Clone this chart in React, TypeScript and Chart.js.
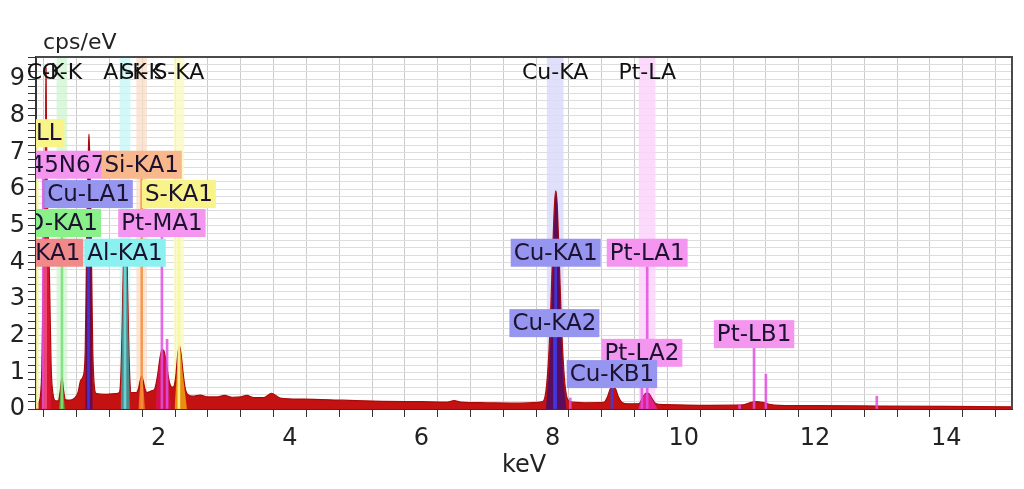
import React, { useEffect, useRef } from 'react';
import { Chart, registerables } from 'chart.js';

Chart.register(...registerables);

// ---- spectrum (keV, cps/eV) ----
const spectrumKeV = [
  0.13, 0.16, 0.2, 0.22, 0.24, 0.26, 0.275, 0.283, 0.29, 0.31,
  0.335, 0.36, 0.39, 0.43, 0.47, 0.5, 0.525, 0.55, 0.58, 0.65,
  0.72, 0.77, 0.81, 0.85, 0.88, 0.895, 0.91, 0.925, 0.937, 0.95,
  0.965, 0.98, 0.995, 1.02, 1.05, 1.2, 1.35, 1.4, 1.42, 1.44,
  1.46, 1.475, 1.49, 1.505, 1.52, 1.54, 1.56, 1.58, 1.66, 1.69,
  1.715, 1.74, 1.765, 1.79, 1.82, 1.9, 1.94, 1.98, 2.02, 2.05,
  2.08, 2.12, 2.16, 2.2, 2.22, 2.26, 2.29, 2.315, 2.34, 2.37,
  2.4, 2.44, 2.52, 2.63, 2.75, 2.9, 3.0, 3.12, 3.25, 3.34,
  3.45, 3.6, 3.72, 3.85, 4.2, 4.8, 5.4, 6.0, 6.4, 6.5,
  6.6, 7.0, 7.5, 7.85, 7.9, 7.94, 7.97, 8.0, 8.03, 8.05,
  8.07, 8.1, 8.13, 8.16, 8.2, 8.26, 8.5, 8.78, 8.84, 8.88,
  8.92, 8.96, 9.0, 9.06, 9.15, 9.32, 9.37, 9.42, 9.46, 9.51,
  9.57, 9.7, 10.4, 10.9, 11.0, 11.1, 11.2, 11.3, 11.45, 12.0,
  13.0, 14.0, 15.0,
];
const spectrumCps = [
  0.05, 0.15, 0.4, 1.2, 3.6, 5.2, 7.5, 9.3, 7.5, 5.2,
  3.6, 1.2, 0.4, 0.22, 0.22, 0.5, 0.85, 0.5, 0.25, 0.24,
  0.3, 0.45, 0.78, 0.9, 1.6, 3.5, 5.5, 6.8, 7.5, 6.8,
  5.5, 3.5, 1.6, 0.6, 0.42, 0.4, 0.42, 0.45, 0.8, 2.0,
  3.8, 4.4, 4.6, 4.4, 3.8, 2.0, 0.8, 0.45, 0.45, 0.55,
  0.75, 0.9, 0.75, 0.55, 0.45, 0.5, 0.55, 0.9, 1.4, 1.62,
  1.58, 1.2, 0.75, 0.6, 0.6, 0.9, 1.5, 1.72, 1.5, 1.0,
  0.6, 0.4, 0.35, 0.38, 0.33, 0.33, 0.37, 0.32, 0.33, 0.37,
  0.31, 0.31, 0.43, 0.3, 0.27, 0.24, 0.21, 0.2, 0.19, 0.23,
  0.19, 0.17, 0.16, 0.2, 0.5, 1.4, 2.6, 4.2, 5.6, 5.95,
  5.6, 4.2, 2.6, 1.4, 0.5, 0.2, 0.17, 0.18, 0.35, 0.55,
  0.62, 0.55, 0.35, 0.18, 0.14, 0.15, 0.3, 0.43, 0.43, 0.3,
  0.15, 0.12, 0.1, 0.11, 0.17, 0.2, 0.18, 0.13, 0.1, 0.09,
  0.08, 0.07, 0.06,
];

// ---- element peak fills ----
const cPeakKeV = [0.215, 0.24, 0.26, 0.275, 0.283, 0.29, 0.31, 0.335, 0.36];
const cPeakCps = [0, 3.2, 5.0, 7.2, 9.0, 7.2, 5.0, 3.2, 0];
const oPeakKeV = [0.48, 0.505, 0.525, 0.545, 0.57];
const oPeakCps = [0, 0.45, 0.82, 0.45, 0];
const cuLPeakKeV = [0.88, 0.895, 0.91, 0.925, 0.937, 0.95, 0.965, 0.98, 0.995];
const cuLPeakCps = [0, 3.0, 5.2, 6.5, 7.1, 6.5, 5.2, 3.0, 0];
const alPeakKeV = [1.42, 1.44, 1.46, 1.475, 1.49, 1.505, 1.52, 1.54, 1.56];
const alPeakCps = [0, 1.8, 3.6, 4.3, 4.5, 4.3, 3.6, 1.8, 0];
const siPeakKeV = [1.69, 1.715, 1.74, 1.765, 1.79];
const siPeakCps = [0, 0.6, 0.86, 0.6, 0];
const ptMPeakKeV = [1.95, 1.98, 2.02, 2.05, 2.08, 2.12, 2.16, 2.19];
const ptMPeakCps = [0, 0.75, 1.3, 1.58, 1.52, 1.1, 0.6, 0];
const sPeakKeV = [2.24, 2.27, 2.29, 2.315, 2.34, 2.37, 2.4, 2.43];
const sPeakCps = [0, 0.8, 1.45, 1.68, 1.45, 0.9, 0.45, 0];
const cuKPeakKeV = [7.9, 7.95, 7.98, 8.01, 8.04, 8.055, 8.07, 8.1, 8.13, 8.16, 8.21];
const cuKPeakCps = [0, 1.2, 2.4, 4.2, 5.6, 5.85, 5.6, 4.0, 2.3, 1.0, 0];
const ptLPeakKeV = [9.3, 9.36, 9.42, 9.46, 9.52, 9.6];
const ptLPeakCps = [0, 0.26, 0.42, 0.41, 0.25, 0];

// ---- line markers ----
const markerKeV = [0.149, 0.24, 0.277, 0.525, 0.93, 1.486, 1.74, 2.048, 2.127, 2.307, 8.028, 8.048, 8.27, 8.905, 9.361, 9.442, 10.85, 11.07, 11.25, 12.94];
const markerTop = [7.14, 6.28, 3.88, 4.69, 5.48, 3.88, 6.28, 4.69, 1.9, 5.48, 1.96, 3.88, 0.3, 0.57, 1.15, 3.88, 0.12, 1.66, 0.95, 0.35];
const markerEl = ['S', 'Pt', 'C', 'O', 'Cu', 'Al', 'Si', 'Pt', 'Pt', 'S', 'Cu', 'Cu', 'Pt', 'Cu', 'Pt', 'Pt', 'Pt', 'Pt', 'Pt', 'Pt'];

// ---- element bands ----
const bandNarrowKeV = [0.525, 1.486, 1.74, 2.307];
const bandNarrowEl = ['O', 'Al', 'Si', 'S'];
const bandWideKeV = [8.04, 9.44];
const bandWideEl = ['Cu', 'Pt'];

// ---- line labels ----
const labelTexts = ['S-LL', 'Pt-N45N67', 'Si-KA1', 'Cu-LA1', 'S-KA1', 'O-KA1', 'Pt-MA1', 'C-KA1', 'Al-KA1', 'Cu-KA1', 'Pt-LA1', 'Cu-KA2', 'Pt-LA2', 'Cu-KB1', 'Pt-LB1'];
const labelKeV = [0.149, 0.24, 1.74, 0.93, 2.307, 0.525, 2.048, 0.277, 1.486, 8.048, 9.442, 8.028, 9.361, 8.905, 11.07];
const labelLevel = [7.14, 6.28, 6.28, 5.48, 5.48, 4.69, 4.69, 3.88, 3.88, 3.88, 3.88, 1.96, 1.15, 0.57, 1.66];
const labelEl = ['S', 'Pt', 'Si', 'Cu', 'S', 'O', 'Pt', 'C', 'Al', 'Cu', 'Pt', 'Cu', 'Pt', 'Cu', 'Pt'];

const topLabelTexts = ['C-K', 'O-K', 'Al-K', 'Si-K', 'S-KA', 'Cu-KA', 'Pt-LA'];
const topLabelKeV = [0.277, 0.525, 1.486, 1.74, 2.307, 8.04, 9.442];

const X_MIN = 0.13;
const X_MAX = 15;
const Y_MAX = 9.6;

// ---- styles ----
const boxColor: Record<string, string> = {
  C: '#f08a8a', O: '#8af08a', Al: '#8af0f0', Si: '#f8b88c', S: '#f8f48a', Cu: '#9696f0', Pt: '#f496f0',
};
const markerColor: Record<string, string> = {
  C: 'rgba(240,80,122,0.85)', O: 'rgba(126,224,126,0.9)', Al: 'rgba(112,222,222,0.85)', Si: 'rgba(244,144,64,0.85)',
  S: 'rgba(246,246,160,0.9)', Cu: 'rgba(60,60,232,0.85)', Pt: 'rgba(224,80,224,0.85)',
};
const bandColor: Record<string, string> = {
  O: 'rgba(205,245,205,0.7)', Al: 'rgba(195,245,245,0.75)', Si: 'rgba(250,220,195,0.7)', S: 'rgba(250,250,195,0.8)',
  Cu: 'rgba(218,218,250,0.85)', Pt: 'rgba(250,212,250,0.85)',
};

const FONT = '"DejaVu Sans", Verdana, sans-serif';

const pts = (xs: number[], ys: number[]) => xs.map((x, i) => ({ x, y: ys[i] }));

const annotPlugin = {
  id: 'annot',
  afterDatasetsDraw(chart: any) {
    const { ctx, chartArea, scales } = chart;
    const xs = scales.x;
    const ys = scales.y;
    ctx.save();
    ctx.beginPath();
    ctx.rect(chartArea.left, chartArea.top, chartArea.right - chartArea.left, chartArea.bottom - chartArea.top);
    ctx.clip();
    ctx.font = `23px ${FONT}`;
    ctx.textAlign = 'center';
    ctx.textBaseline = 'middle';
    const h = 28;
    for (let i = 0; i < labelTexts.length; i++) {
      const t = labelTexts[i];
      const cx = xs.getPixelForValue(labelKeV[i]);
      const by = ys.getPixelForValue(labelLevel[i]);
      const w = ctx.measureText(t).width + 6;
      ctx.fillStyle = boxColor[labelEl[i]];
      ctx.fillRect(cx - w / 2, by - h, w, h);
      ctx.fillStyle = '#1c1230';
      ctx.fillText(t, cx, by - h / 2 + 1);
    }
    ctx.restore();

    ctx.save();
    ctx.font = `22px ${FONT}`;
    ctx.textAlign = 'center';
    ctx.textBaseline = 'middle';
    ctx.fillStyle = '#111';
    for (let i = 0; i < topLabelTexts.length; i++) {
      ctx.fillText(topLabelTexts[i], xs.getPixelForValue(topLabelKeV[i]), chartArea.top + 16);
    }
    ctx.restore();
  },
  afterDraw(chart: any) {
    const { ctx, chartArea } = chart;
    ctx.save();
    ctx.strokeStyle = '#4a4a4a';
    ctx.lineWidth = 2;
    ctx.beginPath();
    ctx.moveTo(chartArea.left, chartArea.top);
    ctx.lineTo(chartArea.right, chartArea.top);
    ctx.lineTo(chartArea.right, chartArea.bottom);
    ctx.stroke();
    ctx.fillStyle = '#222';
    ctx.font = `22px ${FONT}`;
    ctx.textBaseline = 'middle';
    ctx.textAlign = 'left';
    ctx.fillText('cps/eV', 43, 43);
    ctx.font = `24px ${FONT}`;
    ctx.textAlign = 'center';
    ctx.fillText('keV', (chartArea.left + chartArea.right) / 2, 466);
    ctx.restore();
  },
};

export default function App() {
  const ref = useRef<HTMLCanvasElement | null>(null);

  useEffect(() => {
    if (!ref.current) return;
    const overlay = (xs: number[], ys: number[], color: string) => ({
      type: 'line',
      data: pts(xs, ys),
      fill: 'origin',
      backgroundColor: color,
      borderColor: color,
      borderWidth: 0,
      pointRadius: 0,
      cubicInterpolationMode: 'monotone',
      order: 2,
    });
    const chart = new Chart(ref.current, {
      type: 'line',
      data: {
        datasets: [
          {
            type: 'bar',
            data: pts(markerKeV, markerTop),
            backgroundColor: markerEl.map((e) => markerColor[e]),
            barThickness: 2,
            grouped: false,
            order: 1,
          },
          overlay(cPeakKeV, cPeakCps, '#dc1232'),
          overlay(oPeakKeV, oPeakCps, '#5f9a1f'),
          overlay(cuLPeakKeV, cuLPeakCps, '#6a0a4f'),
          overlay(alPeakKeV, alPeakCps, '#4d8c8c'),
          overlay(siPeakKeV, siPeakCps, '#f0701a'),
          overlay(ptMPeakKeV, ptMPeakCps, '#d4104c'),
          overlay(sPeakKeV, sPeakCps, '#e8900c'),
          overlay(cuKPeakKeV, cuKPeakCps, '#5c0c5c'),
          overlay(ptLPeakKeV, ptLPeakCps, '#e0208a'),
          {
            type: 'line',
            data: pts(spectrumKeV, spectrumCps),
            fill: 'origin',
            backgroundColor: '#c41212',
            borderColor: '#a80a0a',
            borderWidth: 1.2,
            pointRadius: 0,
            cubicInterpolationMode: 'monotone',
            order: 3,
          },
          {
            type: 'bar',
            data: bandNarrowKeV.map((k) => ({ x: k, y: Y_MAX })),
            backgroundColor: bandNarrowEl.map((e) => bandColor[e]),
            barThickness: 10,
            grouped: false,
            order: 4,
          },
          {
            type: 'bar',
            data: bandWideKeV.map((k) => ({ x: k, y: Y_MAX })),
            backgroundColor: bandWideEl.map((e) => bandColor[e]),
            barThickness: 16,
            grouped: false,
            order: 4,
          },
        ] as any,
      },
      options: {
        animation: false,
        responsive: false,
        maintainAspectRatio: false,
        layout: { padding: { top: 57, right: 12, left: 0, bottom: 0 } },
        plugins: { legend: { display: false }, tooltip: { enabled: false } },
        scales: {
          x: {
            type: 'linear',
            min: X_MIN,
            max: X_MAX,
            offset: false,
            afterBuildTicks: (s: any) => {
              const t = [];
              for (let i = 1; i <= 30; i++) t.push({ value: i * 0.5 });
              s.ticks = t;
            },
            afterFit: (s: any) => { s.height = 80; },
            grid: { color: '#cccccc', lineWidth: 1, tickColor: '#333', tickLength: 8, drawTicks: true },
            border: { color: '#333', width: 2 },
            ticks: {
              autoSkip: false,
              maxRotation: 0,
              padding: 7,
              color: '#222',
              font: { family: FONT, size: 24 },
              callback: (v: any) => {
                const n = Number(v);
                return Math.abs(n - Math.round(n)) < 1e-6 && Math.round(n) % 2 === 0 ? String(Math.round(n)) : '';
              },
            },
          },
          y: {
            type: 'linear',
            min: 0,
            max: Y_MAX,
            afterBuildTicks: (s: any) => {
              const t = [];
              for (let i = 0; i <= 48; i++) t.push({ value: Math.round(i * 2) / 10 });
              s.ticks = t;
            },
            afterFit: (s: any) => { s.width = 36; },
            grid: { color: '#dddddd', lineWidth: 1, tickColor: '#333', tickLength: 8, drawTicks: true },
            border: { color: '#333', width: 2 },
            ticks: {
              autoSkip: false,
              padding: 3,
              color: '#222',
              font: { family: FONT, size: 24 },
              callback: (v: any) => {
                const n = Number(v);
                return Math.abs(n - Math.round(n)) < 1e-6 ? String(Math.round(n)) : '';
              },
            },
          },
        },
      },
      plugins: [annotPlugin],
    } as any);
    return () => chart.destroy();
  }, []);

  return (
    <div style={{ position: 'fixed', left: 0, top: 0, width: 1024, height: 489, background: '#fff' }}>
      <canvas ref={ref} width={1024} height={489} style={{ width: 1024, height: 489, display: 'block' }} />
    </div>
  );
}
